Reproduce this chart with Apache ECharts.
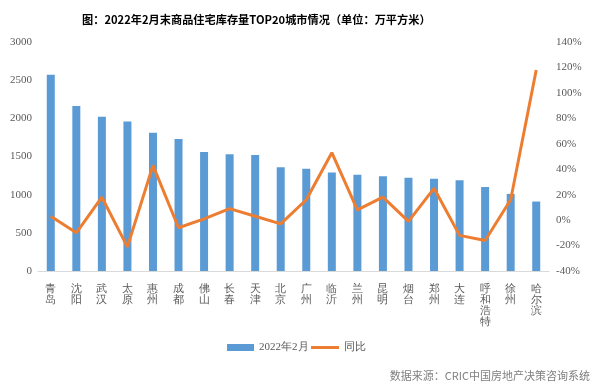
<!DOCTYPE html>
<html><head><meta charset="utf-8">
<script src="https://cdn.jsdelivr.net/npm/echarts@6/dist/echarts.min.js"></script>
<style>html,body{margin:0;padding:0;background:#fff}#c{width:600px;height:391px}</style>
</head><body><div id="c"></div>
<script>
const cities = ['青岛','沈阳','武汉','太原','惠州','成都','佛山','长春','天津','北京','广州','临沂','兰州','昆明','烟台','郑州','大连','呼和浩特','徐州','哈尔滨'];
const stock = [2570,2160,2020,1960,1810,1730,1560,1530,1520,1360,1340,1290,1260,1240,1220,1210,1190,1100,1010,910];
const yoy = [3,-10,18,-21,43,-6,1,9,3,-3,16,53,8,18,-1,25,-12,-16,16,118];
const leftTicks = [0,500,1000,1500,2000,2500,3000];
const rightTicks = [-40,-20,0,20,40,60,80,100,120,140];

const chart = echarts.init(document.getElementById('c'));
const serif = '"Liberation Serif", serif';
chart.setOption({
  animation:false,
  title:{text:'图：2022年2月末商品住宅库存量TOP20城市情况（单位：万平方米）',left:77,top:9,
    textStyle:{fontSize:11.2,fontWeight:'bold',color:'#000',fontFamily:'"Noto Sans CJK SC", sans-serif'}},
  grid:{left:38,right:51,top:42,bottom:120},
  legend:[
    {bottom:33,left:222,itemWidth:27,itemHeight:7,
      textStyle:{fontSize:11,color:'#595959',fontFamily:serif},
      data:[{name:'2022年2月',icon:'rect'}]},
    {bottom:33,left:306,itemWidth:28,itemHeight:3,
      textStyle:{fontSize:11,color:'#595959',fontFamily:serif},
      data:[{name:'同比',icon:'rect'}]}
  ],
  graphic:[{type:'text',right:10,bottom:10,style:{text:'数据来源：CRIC中国房地产决策咨询系统',fill:'#7f7f7f',fontSize:11,fontFamily:'"Noto Sans CJK SC", sans-serif'}}],
  xAxis:{type:'category',data:cities,
    axisLine:{lineStyle:{color:'#d9d9d9'}},axisTick:{show:false},
    axisLabel:{interval:0,color:'#595959',fontSize:11,lineHeight:11,margin:13,fontFamily:serif,
      formatter:v=>v.split('').join('\n')}},
  yAxis:[
    {type:'value',min:leftTicks[0],max:leftTicks[leftTicks.length-1],interval:500,splitLine:{show:false},
      axisLabel:{color:'#595959',fontSize:11,fontFamily:serif,margin:6,formatter:v=>String(v)}},
    {type:'value',min:rightTicks[0],max:rightTicks[rightTicks.length-1],interval:20,splitLine:{show:false},
      axisLabel:{color:'#595959',fontSize:11,fontFamily:serif,margin:7,formatter:'{value}%'}}
  ],
  series:[
    {name:'2022年2月',type:'bar',data:stock,barWidth:8,itemStyle:{color:'#5b9bd5'}},
    {name:'同比',type:'line',yAxisIndex:1,data:yoy,symbol:'none',lineStyle:{color:'#ed7d31',width:3},itemStyle:{color:'#ed7d31'}}
  ]
});
</script></body></html>
